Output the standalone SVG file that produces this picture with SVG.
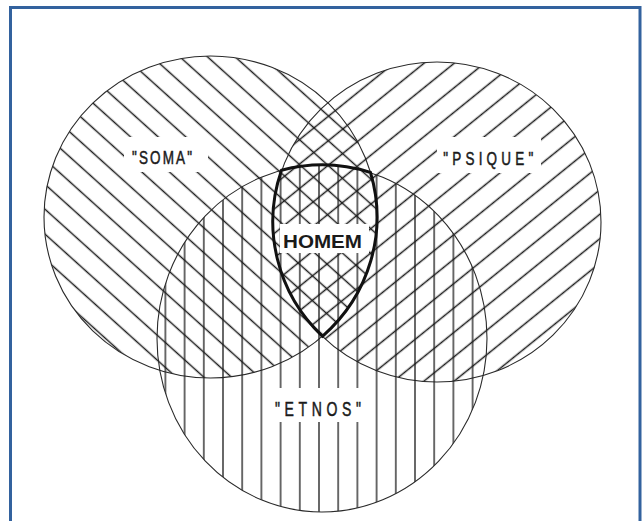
<svg xmlns="http://www.w3.org/2000/svg" width="644" height="521" viewBox="0 0 644 521">
<style>
.hatch{stroke:#1c1c1c;stroke-width:1.3;fill:none}
.outline{stroke:#2a2a2a;stroke-width:1.1}
.lbl{font-family:"Liberation Sans",Arial,sans-serif;fill:#1a1a1a}
.thin{stroke:#1a1a1a;stroke-width:0.5}
.mask{fill:#ffffff}
</style>
<defs>
<pattern id="pSoma" patternUnits="userSpaceOnUse" width="40" height="18.5" y="5.15" patternTransform="rotate(42)">
<line class="hatch" x1="-1" y1="9.25" x2="41" y2="9.25"/>
</pattern>
<pattern id="pPsique" patternUnits="userSpaceOnUse" width="40" height="19" y="2.5" patternTransform="rotate(-39)">
<line class="hatch" x1="-1" y1="9.5" x2="41" y2="9.5"/>
</pattern>
<pattern id="pEtnos" patternUnits="userSpaceOnUse" width="19.2" height="20" x="309.4">
<line class="hatch" x1="9.6" y1="-1" x2="9.6" y2="21"/>
</pattern>
</defs>
<rect x="0" y="0" width="644" height="521" fill="#ffffff"/>
<rect x="10.5" y="7.5" width="629.5" height="520" fill="none" stroke="#33629e" stroke-width="3"/>
<g id="soma">
<ellipse class="outline" cx="210.5" cy="217" rx="166.5" ry="161" fill="url(#pSoma)"/>
<rect class="mask" x="124" y="137" width="84" height="35"/>
<text class="lbl thin" font-size="18" transform="scale(0.75,1)" x="176" y="164.5" textLength="80" lengthAdjust="spacing">"SOMA"</text>
</g>
<g id="psique">
<ellipse class="outline" cx="437" cy="222" rx="164" ry="160" fill="url(#pPsique)"/>
<rect class="mask" x="437" y="137" width="104" height="36"/>
<text class="lbl thin" font-size="18" transform="scale(0.75,1)" x="591" y="165" textLength="120" lengthAdjust="spacing">"PSIQUE"</text>
</g>
<g id="etnos">
<ellipse class="outline" cx="322" cy="338.5" rx="165" ry="173.5" fill="url(#pEtnos)"/>
<rect class="mask" x="266" y="388" width="105" height="34"/>
<text class="lbl thin" font-size="19.5" transform="scale(0.72,1)" x="381.94" y="416" textLength="119.44" lengthAdjust="spacing">"ETNOS"</text>
</g>
<g id="homem">
<path d="M281.5,170.3 A165,173.5 0 0 1 370.5,172.5 A166.5,161 0 0 1 322.5,336.3 A164,160 0 0 1 281.5,170.3 Z" fill="none" stroke="#111" stroke-width="3" stroke-linejoin="miter"/>
<rect class="mask" x="280" y="224" width="89" height="29"/>
<text class="lbl" font-size="19" font-weight="bold" x="283" y="248" textLength="79" lengthAdjust="spacingAndGlyphs">HOMEM</text>
</g>
</svg>
